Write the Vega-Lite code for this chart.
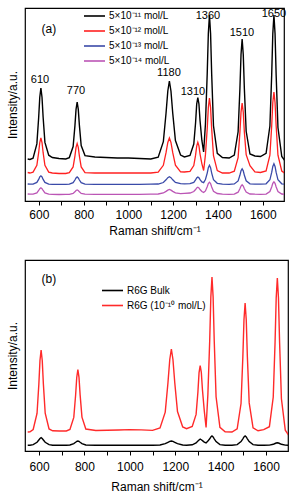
{
"$schema":"https://vega.github.io/schema/vega-lite/v6.json",
"padding":{"left":5,"top":7,"right":5,"bottom":2},
"spacing":22,
"config":{
 "font":"Liberation Sans",
 "view":{"stroke":"#000","strokeWidth":1.2},
 "axis":{"domain":false,"grid":false,"labelColor":"#000","titleColor":"#000","tickColor":"#000","labelFontSize":12,"titleFontSize":12,"titleFontWeight":"normal","tickSize":4,"labelPadding":4,"labelFont":"Liberation Sans","titleFont":"Liberation Sans"},
 "legend":{"orient":"none","title":null,"symbolType":"M-2.1,0H2.1","symbolSize":100,"symbolStrokeWidth":1.6,"labelFontSize":10,"labelColor":"#000","rowPadding":4,"labelOffset":8.5,"labelFont":"Liberation Sans"}
},
"resolve":{"scale":{"color":"independent","x":"independent","y":"independent"},"legend":{"color":"independent"}},
"datasets":{
"a1":[{"x":550,"y":42},{"x":560,"y":41.5},{"x":574,"y":42.8},{"x":591,"y":57.1},{"x":599,"y":83.2},{"x":604,"y":103.8},{"x":609,"y":113},{"x":614,"y":103.8},{"x":619,"y":83.7},{"x":627,"y":58.6},{"x":644,"y":45.8},{"x":660,"y":43.5},{"x":690,"y":42.5},{"x":720,"y":42},{"x":736,"y":43.4},{"x":753,"y":54.5},{"x":761,"y":75.1},{"x":766,"y":91.6},{"x":771,"y":99},{"x":776,"y":91.6},{"x":781,"y":75.6},{"x":789,"y":55.5},{"x":806,"y":45.4},{"x":850,"y":44},{"x":900,"y":43.5},{"x":950,"y":43},{"x":1000,"y":43},{"x":1050,"y":42.5},{"x":1100,"y":42},{"x":1133,"y":43.9},{"x":1156,"y":59.4},{"x":1168,"y":87.7},{"x":1176,"y":110},{"x":1183,"y":120},{"x":1190,"y":110},{"x":1198,"y":87.7},{"x":1210,"y":60.4},{"x":1233,"y":45.9},{"x":1250,"y":44},{"x":1275,"y":45.5},{"x":1292,"y":57},{"x":1300,"y":78.2},{"x":1305,"y":96.8},{"x":1310,"y":103.5},{"x":1315,"y":97},{"x":1320,"y":80.3},{"x":1328,"y":60.8},{"x":1336,"y":49},{"x":1344,"y":76.8},{"x":1352,"y":127.3},{"x":1357,"y":167.5},{"x":1362,"y":186},{"x":1367,"y":167.5},{"x":1372,"y":126.4},{"x":1380,"y":75.2},{"x":1397,"y":47.6},{"x":1420,"y":43.5},{"x":1450,"y":43},{"x":1473,"y":46},{"x":1490,"y":69.2},{"x":1498,"y":112},{"x":1503,"y":146.5},{"x":1508,"y":162},{"x":1513,"y":146.5},{"x":1518,"y":112},{"x":1526,"y":69.7},{"x":1543,"y":47},{"x":1565,"y":45},{"x":1590,"y":44.5},{"x":1615,"y":47.6},{"x":1632,"y":75},{"x":1640,"y":125.9},{"x":1645,"y":167.4},{"x":1650,"y":186},{"x":1655,"y":167.4},{"x":1660,"y":125.4},{"x":1668,"y":73.5},{"x":1685,"y":44.6},{"x":1700,"y":40}],
"a2":[{"x":550,"y":28.5},{"x":560,"y":28},{"x":574,"y":28.9},{"x":591,"y":35.7},{"x":599,"y":48.3},{"x":604,"y":58.5},{"x":609,"y":63},{"x":614,"y":58.5},{"x":619,"y":48.3},{"x":627,"y":35.7},{"x":644,"y":28.9},{"x":660,"y":28},{"x":690,"y":27.5},{"x":720,"y":27.5},{"x":736,"y":28.3},{"x":753,"y":34.1},{"x":761,"y":44.9},{"x":766,"y":53.6},{"x":771,"y":57.5},{"x":776,"y":53.6},{"x":781,"y":44.9},{"x":789,"y":34.1},{"x":806,"y":28.3},{"x":850,"y":28},{"x":900,"y":28},{"x":950,"y":28},{"x":1000,"y":28},{"x":1050,"y":28},{"x":1100,"y":28},{"x":1133,"y":28.9},{"x":1156,"y":35.7},{"x":1168,"y":48.3},{"x":1176,"y":58.5},{"x":1183,"y":63},{"x":1190,"y":58.5},{"x":1198,"y":48.3},{"x":1210,"y":35.9},{"x":1233,"y":29.2},{"x":1250,"y":29},{"x":1275,"y":29.7},{"x":1292,"y":35.4},{"x":1300,"y":45.8},{"x":1305,"y":54.9},{"x":1310,"y":58.7},{"x":1315,"y":55.1},{"x":1320,"y":46.9},{"x":1328,"y":37.4},{"x":1336,"y":30.5},{"x":1344,"y":46.1},{"x":1352,"y":72.3},{"x":1357,"y":93.4},{"x":1362,"y":103},{"x":1367,"y":93.4},{"x":1372,"y":71.9},{"x":1380,"y":45.3},{"x":1397,"y":30.4},{"x":1420,"y":28},{"x":1450,"y":28},{"x":1473,"y":29.8},{"x":1490,"y":43.4},{"x":1498,"y":68.6},{"x":1503,"y":88.9},{"x":1508,"y":98},{"x":1513,"y":88.9},{"x":1518,"y":68.6},{"x":1526,"y":46.4},{"x":1543,"y":35.3},{"x":1565,"y":29},{"x":1590,"y":28.5},{"x":1615,"y":30},{"x":1632,"y":45.8},{"x":1640,"y":75},{"x":1645,"y":98.5},{"x":1650,"y":109},{"x":1655,"y":98.5},{"x":1660,"y":75},{"x":1668,"y":45.8},{"x":1685,"y":30},{"x":1700,"y":27.5}],
"a3":[{"x":550,"y":17},{"x":560,"y":16.8},{"x":574,"y":16.9},{"x":591,"y":18.6},{"x":599,"y":21.6},{"x":604,"y":24.1},{"x":609,"y":25.2},{"x":614,"y":24.1},{"x":619,"y":21.6},{"x":627,"y":18.6},{"x":644,"y":16.9},{"x":660,"y":16.7},{"x":690,"y":16.6},{"x":720,"y":16.6},{"x":736,"y":16.8},{"x":753,"y":18.3},{"x":761,"y":21},{"x":766,"y":23.1},{"x":771,"y":24.1},{"x":776,"y":23.1},{"x":781,"y":21},{"x":789,"y":18.3},{"x":806,"y":16.8},{"x":850,"y":16.7},{"x":900,"y":16.7},{"x":950,"y":16.7},{"x":1000,"y":16.7},{"x":1050,"y":16.7},{"x":1100,"y":16.8},{"x":1133,"y":17},{"x":1156,"y":18.5},{"x":1168,"y":21.2},{"x":1176,"y":23.3},{"x":1183,"y":24.3},{"x":1190,"y":23.3},{"x":1198,"y":21.2},{"x":1210,"y":18.6},{"x":1233,"y":17.3},{"x":1250,"y":17.2},{"x":1275,"y":17.3},{"x":1292,"y":18.6},{"x":1300,"y":21},{"x":1305,"y":23.1},{"x":1310,"y":23.9},{"x":1315,"y":23.2},{"x":1320,"y":21.3},{"x":1328,"y":19.1},{"x":1336,"y":18.4},{"x":1344,"y":21.5},{"x":1352,"y":27.9},{"x":1357,"y":33.3},{"x":1362,"y":35.7},{"x":1367,"y":33.3},{"x":1372,"y":27.9},{"x":1380,"y":21.3},{"x":1397,"y":17.7},{"x":1420,"y":16.8},{"x":1450,"y":16.7},{"x":1473,"y":17.1},{"x":1490,"y":20.1},{"x":1498,"y":25.7},{"x":1503,"y":30.2},{"x":1508,"y":32.2},{"x":1513,"y":30.2},{"x":1518,"y":25.7},{"x":1526,"y":20.2},{"x":1543,"y":17.2},{"x":1565,"y":16.9},{"x":1590,"y":16.8},{"x":1615,"y":17.2},{"x":1632,"y":21.2},{"x":1640,"y":28.6},{"x":1645,"y":34.5},{"x":1650,"y":37.2},{"x":1655,"y":34.5},{"x":1660,"y":28.6},{"x":1668,"y":21.2},{"x":1685,"y":17.2},{"x":1700,"y":16.6}],
"a4":[{"x":550,"y":7},{"x":560,"y":6.8},{"x":574,"y":6.9},{"x":591,"y":8.1},{"x":599,"y":10.5},{"x":604,"y":12.4},{"x":609,"y":13.2},{"x":614,"y":12.4},{"x":619,"y":10.5},{"x":627,"y":8.1},{"x":644,"y":6.9},{"x":660,"y":6.7},{"x":690,"y":6.5},{"x":720,"y":6.6},{"x":736,"y":6.7},{"x":753,"y":7.6},{"x":761,"y":9.2},{"x":766,"y":10.5},{"x":771,"y":11.1},{"x":776,"y":10.5},{"x":781,"y":9.2},{"x":789,"y":7.6},{"x":806,"y":6.8},{"x":850,"y":6.6},{"x":900,"y":6.7},{"x":950,"y":6.6},{"x":1000,"y":6.7},{"x":1050,"y":6.6},{"x":1100,"y":6.8},{"x":1133,"y":7},{"x":1156,"y":8},{"x":1168,"y":9.6},{"x":1176,"y":10.9},{"x":1183,"y":11.5},{"x":1190,"y":10.9},{"x":1198,"y":9.6},{"x":1210,"y":8.1},{"x":1233,"y":7.4},{"x":1250,"y":7.6},{"x":1275,"y":8},{"x":1292,"y":9.5},{"x":1300,"y":11.5},{"x":1305,"y":13.1},{"x":1310,"y":13.8},{"x":1315,"y":13.1},{"x":1320,"y":11.5},{"x":1328,"y":9.5},{"x":1336,"y":8.6},{"x":1344,"y":10.1},{"x":1352,"y":14.2},{"x":1357,"y":17.4},{"x":1362,"y":18.8},{"x":1367,"y":17.4},{"x":1372,"y":14},{"x":1380,"y":9.8},{"x":1397,"y":7.5},{"x":1420,"y":6.8},{"x":1450,"y":6.7},{"x":1473,"y":6.9},{"x":1490,"y":8.8},{"x":1498,"y":12.2},{"x":1503,"y":15},{"x":1508,"y":16.2},{"x":1513,"y":15},{"x":1518,"y":12.2},{"x":1526,"y":8.9},{"x":1543,"y":7},{"x":1565,"y":6.8},{"x":1590,"y":6.7},{"x":1615,"y":6.9},{"x":1632,"y":9.5},{"x":1640,"y":14},{"x":1645,"y":17.6},{"x":1650,"y":19.2},{"x":1655,"y":17.6},{"x":1660,"y":14},{"x":1668,"y":9.5},{"x":1685,"y":7},{"x":1700,"y":6.6}],
"b1":[{"x":550,"y":5.7},{"x":560,"y":5.7},{"x":574,"y":6.3},{"x":591,"y":8.7},{"x":599,"y":11},{"x":604,"y":12.5},{"x":609,"y":13.3},{"x":614,"y":12.5},{"x":619,"y":11},{"x":627,"y":8.7},{"x":644,"y":6.3},{"x":660,"y":5.8},{"x":690,"y":5.7},{"x":720,"y":5.7},{"x":736,"y":6},{"x":753,"y":7.4},{"x":761,"y":8.7},{"x":766,"y":9.6},{"x":771,"y":10},{"x":776,"y":9.6},{"x":781,"y":8.7},{"x":789,"y":7.4},{"x":806,"y":6},{"x":850,"y":5.7},{"x":900,"y":5.7},{"x":950,"y":5.7},{"x":1000,"y":5.7},{"x":1050,"y":5.7},{"x":1100,"y":5.7},{"x":1133,"y":6},{"x":1156,"y":7.4},{"x":1168,"y":8.7},{"x":1176,"y":9.6},{"x":1183,"y":10},{"x":1190,"y":9.6},{"x":1198,"y":8.7},{"x":1210,"y":7.4},{"x":1233,"y":6},{"x":1250,"y":5.8},{"x":1275,"y":6.2},{"x":1292,"y":8.1},{"x":1300,"y":9.9},{"x":1305,"y":11.1},{"x":1310,"y":12},{"x":1315,"y":11.2},{"x":1320,"y":10.4},{"x":1328,"y":8.9},{"x":1336,"y":8},{"x":1344,"y":9.9},{"x":1352,"y":12.2},{"x":1357,"y":14.1},{"x":1362,"y":15},{"x":1367,"y":14.1},{"x":1372,"y":12.2},{"x":1380,"y":9.4},{"x":1397,"y":6.4},{"x":1420,"y":5.7},{"x":1450,"y":5.7},{"x":1473,"y":6.4},{"x":1490,"y":9.4},{"x":1498,"y":12.2},{"x":1503,"y":14.1},{"x":1508,"y":15},{"x":1513,"y":14.1},{"x":1518,"y":12.2},{"x":1526,"y":9.4},{"x":1543,"y":6.4},{"x":1565,"y":5.7},{"x":1590,"y":5.7},{"x":1615,"y":5.9},{"x":1632,"y":6.7},{"x":1640,"y":7.5},{"x":1645,"y":8},{"x":1650,"y":8.3},{"x":1655,"y":8},{"x":1660,"y":7.5},{"x":1668,"y":6.7},{"x":1685,"y":5.9},{"x":1700,"y":5.7}],
"b2":[{"x":550,"y":19},{"x":560,"y":19.2},{"x":574,"y":21.5},{"x":591,"y":37.5},{"x":599,"y":66.8},{"x":604,"y":90.5},{"x":609,"y":101},{"x":614,"y":90.5},{"x":619,"y":67},{"x":627,"y":37.8},{"x":644,"y":22},{"x":660,"y":20.2},{"x":690,"y":20},{"x":720,"y":20},{"x":736,"y":21.5},{"x":753,"y":33.6},{"x":761,"y":55.7},{"x":766,"y":73.5},{"x":771,"y":81.5},{"x":776,"y":73.6},{"x":781,"y":55.9},{"x":789,"y":33.9},{"x":806,"y":22},{"x":850,"y":20.5},{"x":900,"y":20.8},{"x":950,"y":21},{"x":1000,"y":21.4},{"x":1050,"y":21.1},{"x":1100,"y":20.6},{"x":1133,"y":23},{"x":1156,"y":38.9},{"x":1168,"y":68.2},{"x":1176,"y":91.5},{"x":1183,"y":102},{"x":1190,"y":91.5},{"x":1198,"y":68.2},{"x":1210,"y":39.5},{"x":1233,"y":24},{"x":1250,"y":22.3},{"x":1275,"y":24.6},{"x":1292,"y":36.6},{"x":1300,"y":59},{"x":1305,"y":78.4},{"x":1310,"y":85.5},{"x":1315,"y":78.7},{"x":1320,"y":61.3},{"x":1328,"y":40.2},{"x":1336,"y":23.5},{"x":1344,"y":56.9},{"x":1352,"y":110.6},{"x":1357,"y":154.1},{"x":1362,"y":174},{"x":1367,"y":154.1},{"x":1372,"y":109.7},{"x":1380,"y":54.2},{"x":1397,"y":23.6},{"x":1420,"y":19.2},{"x":1450,"y":19},{"x":1473,"y":22.2},{"x":1490,"y":47.5},{"x":1498,"y":94},{"x":1503,"y":131.3},{"x":1508,"y":148},{"x":1513,"y":131.3},{"x":1518,"y":94},{"x":1526,"y":48.1},{"x":1543,"y":23.2},{"x":1565,"y":20.2},{"x":1590,"y":21.3},{"x":1615,"y":24.3},{"x":1632,"y":54},{"x":1640,"y":108.7},{"x":1645,"y":153.1},{"x":1650,"y":173},{"x":1655,"y":153.1},{"x":1660,"y":108.2},{"x":1668,"y":52.2},{"x":1685,"y":20.8},{"x":1700,"y":15.8}],
"la":[{"x":605,"y":121,"t":"610"},{"x":766,"y":110,"t":"770"},{"x":1181,"y":128,"t":"1180"},{"x":1288,"y":109,"t":"1310"},{"x":1355,"y":185,"t":"1360"},{"x":1507,"y":168,"t":"1510"},{"x":1650,"y":187,"t":"1650"}]
},
"vconcat":[
{
 "width":259,"height":193,
 "encoding":{
  "x":{"field":"x","type":"quantitative","scale":{"domain":[538,1695],"nice":false,"zero":false},"axis":{"title":"Raman shift/cm⁻¹","values":[600,700,800,900,1000,1100,1200,1300,1400,1500,1600],"format":"d","labelExpr":"datum.value % 200 == 0 ? datum.label : ''","titlePadding":5}},
  "y":{"field":"y","type":"quantitative","scale":{"domain":[0,193],"nice":false,"zero":false},"axis":{"title":"Intensity/a.u.","labels":false,"ticks":false,"titlePadding":6}}
 },
 "layer":[
  {"data":{"name":"a4"},"mark":{"type":"line","strokeWidth":1.3,"clip":true},"encoding":{"color":{"datum":"5×10⁻¹⁴ mol/L","type":"nominal","scale":{"domain":["5×10⁻¹¹ mol/L","5×10⁻¹² mol/L","5×10⁻¹³ mol/L","5×10⁻¹⁴ mol/L"],"range":["#000000","#ff2020","#3a4aa8","#bb55b5"]},"legend":{"legendX":63.5,"legendY":2}}}},
  {"data":{"name":"a3"},"mark":{"type":"line","strokeWidth":1.3,"clip":true},"encoding":{"color":{"datum":"5×10⁻¹³ mol/L","type":"nominal"}}},
  {"data":{"name":"a2"},"mark":{"type":"line","strokeWidth":1.3,"clip":true},"encoding":{"color":{"datum":"5×10⁻¹² mol/L","type":"nominal"}}},
  {"data":{"name":"a1"},"mark":{"type":"line","strokeWidth":1.4,"clip":true},"encoding":{"color":{"datum":"5×10⁻¹¹ mol/L","type":"nominal"}}},
  {"data":{"name":"la"},"mark":{"type":"text","fontSize":11,"font":"Liberation Sans","color":"#000"},"encoding":{"text":{"field":"t"}}},
  {"data":{"values":[{"x":645,"y":172,"t":"(a)"}]},"mark":{"type":"text","fontSize":12,"font":"Liberation Sans","color":"#000"},"encoding":{"text":{"field":"t"}}}
 ]
},
{
 "width":263,"height":191,
 "encoding":{
  "x":{"field":"x","type":"quantitative","scale":{"domain":[538,1697],"nice":false,"zero":false},"axis":{"title":"Raman shift/cm⁻¹","values":[600,700,800,900,1000,1100,1200,1300,1400,1500,1600],"format":"d","labelExpr":"datum.value % 200 == 0 ? datum.label : ''","labelPadding":6,"titlePadding":9}},
  "y":{"field":"y","type":"quantitative","scale":{"domain":[0,191],"nice":false,"zero":false},"axis":{"title":"Intensity/a.u.","labels":false,"ticks":false,"titlePadding":6}}
 },
 "layer":[
  {"data":{"name":"b1"},"mark":{"type":"line","strokeWidth":1.4,"clip":true},"encoding":{"color":{"datum":"R6G Bulk","type":"nominal","scale":{"domain":["R6G Bulk","R6G (10⁻¹⁰ mol/L)"],"range":["#000000","#ff2a2a"]},"legend":{"legendX":81.5,"legendY":24.5}}}},
  {"data":{"name":"b2"},"mark":{"type":"line","strokeWidth":1.4,"clip":true},"encoding":{"color":{"datum":"R6G (10⁻¹⁰ mol/L)","type":"nominal"}}},
  {"data":{"values":[{"x":643,"y":172,"t":"(b)"}]},"mark":{"type":"text","fontSize":12,"font":"Liberation Sans","color":"#000"},"encoding":{"text":{"field":"t"}}}
 ]
}
]
}
